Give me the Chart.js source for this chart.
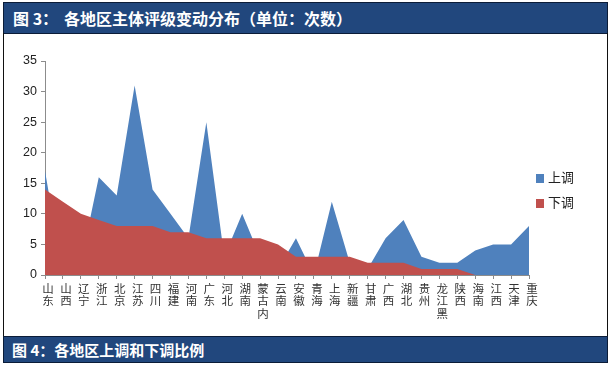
<!DOCTYPE html>
<html>
<head>
<meta charset="utf-8">
<script src="https://cdn.jsdelivr.net/npm/chart.js@4/dist/chart.umd.min.js"></script>
<style>
    body { margin: 0; background: #fff; }
    #wrap { position: relative; width: 613px; height: 372px; overflow: hidden; font-family: "Noto Sans CJK SC", sans-serif; }
    .bar { position: absolute; left: 3px; width: 603px; background: #21477d; border: 1px solid #0b1c38; color: #fff; font-weight: bold; }
    #topBar { top: 2px; height: 30px; font-size: 16px; line-height: 30px; }
    #bottomBar { top: 336px; height: 25px; font-size: 15px; line-height: 25px; }
    #panel { position: absolute; left: 3px; top: 33px; width: 603px; height: 303px; border-left: 1px solid #111; border-right: 1px solid #111; }
    #chart { position: absolute; left: 0; top: 0; }
    .leg { position: absolute; left: 536px; font-size: 13px; color: #222; line-height: 14px; }
    .leg i { display: inline-block; width: 8px; height: 9px; margin-right: 4px; vertical-align: -1px; }
</style>
</head>
<body>
<div id="wrap">
    <div id="topBar" class="bar"><span style="margin-left:9px">图 3：</span><span style="margin-left:6px">各地区主体评级变动分布（单位：次数）</span></div>
    <div id="panel"></div>
    <div id="bottomBar" class="bar"><span style="margin-left:8px">图 4：各地区上调和下调比例</span></div>
    <canvas id="chart" width="613" height="372"></canvas>
    <div class="leg" style="top:170px"><i style="background:#4f81bd"></i>上调</div>
    <div class="leg" style="top:195px"><i style="background:#c0504d"></i>下调</div>
</div>
<script>
// categories and values
var regions = ['山东', '山西', '辽宁', '浙江', '北京', '江苏', '四川', '福建', '河南', '广东',
    '河北', '湖南', '内蒙古', '云南', '安徽', '青海', '上海', '新疆', '甘肃', '广西',
    '湖北', '贵州', '黑龙江', '陕西', '海南', '江西', '天津', '重庆'];
var upValues = [17, 0, 2, 16, 13, 31, 14, 10, 6, 25,
    3, 10, 3, 1, 6, 0, 12, 2, 1, 6,
    9, 3, 2, 2, 4, 5, 5, 8];
var downValues = [14, 12, 10, 9, 8, 8, 8, 7, 7, 6,
    6, 6, 6, 5, 3, 3, 3, 3, 2, 2,
    2, 1, 1, 1, 0, 0, 0, 0];
var yMax = 35;
var yStep = 5;

// stacked vertical text like the original: the last two characters on top,
// the first one wraps underneath for three-character names
function stackLabel(name) {
    var chars = name.split('');
    if (chars.length === 3) {
        return [chars[1], chars[2], chars[0]];
    }
    return chars;
}

var ctx = document.getElementById('chart').getContext('2d');
new Chart(ctx, {
    type: 'line',
    data: {
        labels: regions.map(stackLabel),
        datasets: [{
            label: '下调',
            data: downValues,
            backgroundColor: '#c0504d',
            borderWidth: 0,
            pointRadius: 0,
            fill: 'origin',
            order: 0
        }, {
            label: '上调',
            data: upValues,
            backgroundColor: '#4f81bd',
            borderWidth: 0,
            pointRadius: 0,
            fill: 'origin',
            order: 1
        }]
    },
    options: {
        responsive: false,
        animation: false,
        layout: { padding: { left: 0, top: 61, right: 84, bottom: 0 } },
        plugins: {
            legend: { display: false },
            tooltip: { enabled: false }
        },
        elements: { line: { tension: 0 } },
        scales: {
            x: {
                offset: false,
                grid: { drawOnChartArea: false, drawTicks: true, tickLength: 4, color: '#8c8c8c' },
                border: { display: true, color: '#8c8c8c' },
                ticks: {
                    autoSkip: false,
                    maxRotation: 0,
                    minRotation: 0,
                    padding: 3,
                    labelOffset: 3,
                    color: '#333',
                    font: { family: 'Noto Sans CJK SC', size: 11.5, lineHeight: 1.1 }
                },
                afterFit: function (scale) { scale.height = 97; }
            },
            y: {
                min: 0,
                max: yMax,
                grid: { drawOnChartArea: false, drawTicks: true, tickLength: 4, color: '#8c8c8c' },
                border: { display: true, color: '#8c8c8c' },
                ticks: {
                    stepSize: yStep,
                    padding: 4,
                    color: '#222',
                    font: { family: 'Liberation Sans', size: 12.5 }
                },
                afterFit: function (scale) { scale.width = 45; }
            }
        }
    }
});
</script>
</body>
</html>
